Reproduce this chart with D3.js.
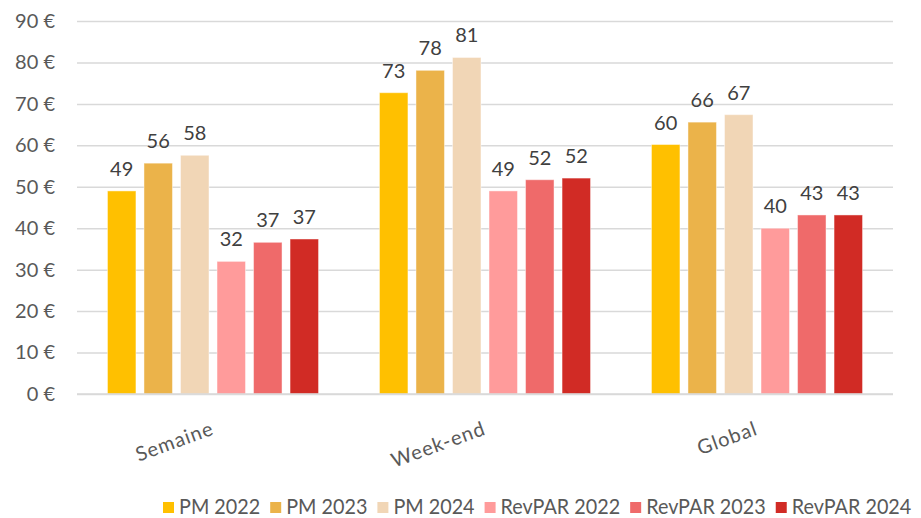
<!DOCTYPE html>
<html>
<head>
<meta charset="utf-8">
<script src="https://cdn.jsdelivr.net/npm/d3@7"></script>
<style>
  html, body { margin: 0; padding: 0; background: #ffffff; }
  svg { display: block; font-family: Lato, "Open Sans", sans-serif; }
</style>
</head>
<body>
<svg id="chart" width="921" height="518"></svg>
<script>
// Categories along the x axis
const categories = ["Semaine", "Week-end", "Global"];

// Series names and their fill colours
const seriesNames = ["PM 2022", "PM 2023", "PM 2024", "RevPAR 2022", "RevPAR 2023", "RevPAR 2024"];
const seriesColors = ["#FFC000", "#EBB34A", "#F1D6B6", "#FF9B9B", "#EF6A6A", "#D12B25"];

// Values (€) per series, one per category
const pm2022 = [49.0, 72.7, 60.2];
const pm2023 = [55.7, 78.1, 65.6];
const pm2024 = [57.6, 81.2, 67.4];
const revpar2022 = [32.0, 49.0, 40.0];
const revpar2023 = [36.6, 51.7, 43.2];
const revpar2024 = [37.4, 52.1, 43.2];

// Y axis ticks
const yTicks = [0, 10, 20, 30, 40, 50, 60, 70, 80, 90];

const seriesValues = [pm2022, pm2023, pm2024, revpar2022, revpar2023, revpar2024];

const svg = d3.select("#chart");
const margin = { left: 77, right: 28, top: 21, bottom: 124 };
const W = 921, H = 518;

const y = d3.scaleLinear().domain([0, 90]).range([H - margin.bottom, margin.top]);
const x0 = d3.scaleBand().domain(categories)
  .range([margin.left, W - margin.right])
  .paddingInner(0.224).paddingOuter(0.112);
const x1 = d3.scaleBand().domain(seriesNames)
  .range([0, x0.bandwidth()])
  .paddingInner(0.22);

const textColor = "#595959";

// Horizontal gridlines and y tick labels
const yAxis = d3.axisLeft(y).tickValues(yTicks)
  .tickSize(-(W - margin.left - margin.right))
  .tickPadding(22)
  .tickFormat(d => d + " €");
const gy = svg.append("g").attr("transform", `translate(${margin.left},0)`).call(yAxis);
gy.select(".domain").remove();
gy.selectAll(".tick line").attr("stroke", "#D9D9D9").attr("stroke-width", 1.5);
gy.selectAll(".tick text")
  .attr("fill", textColor)
  .style("font-size", "20px")
  .style("font-family", "Lato, sans-serif");

// Bars grouped by category
const groups = svg.append("g").selectAll("g")
  .data(categories)
  .join("g")
  .attr("transform", d => `translate(${x0(d)},0)`);

const cells = groups.selectAll("g.bar")
  .data((c, ci) => seriesNames.map((s, si) => ({ series: s, si, value: seriesValues[si][ci] })))
  .join("g").attr("class", "bar");

cells.append("rect")
  .attr("x", d => x1(d.series))
  .attr("width", x1.bandwidth())
  .attr("y", d => y(d.value))
  .attr("height", d => y(0) - y(d.value))
  .attr("fill", d => seriesColors[d.si])
  .attr("stroke", "#ffffff")
  .attr("stroke-opacity", 0.45)
  .attr("stroke-width", 1);

// Value labels above bars
cells.append("text")
  .attr("x", d => x1(d.series) + x1.bandwidth() / 2)
  .attr("y", d => y(d.value) - 15)
  .attr("text-anchor", "middle")
  .attr("fill", "#404040")
  .style("font-size", "20px")
  .text(d => d3.format(".0f")(d.value));

// Baseline
svg.append("line")
  .attr("x1", margin.left).attr("x2", W - margin.right)
  .attr("y1", y(0)).attr("y2", y(0))
  .attr("stroke", "#D9D9D9").attr("stroke-width", 1.5);

// Category labels, rotated
svg.append("g").selectAll("text")
  .data(categories)
  .join("text")
  .attr("text-anchor", "end")
  .attr("transform", d => `translate(${x0(d) + x0.bandwidth() / 2 + 2},${y(0) + 40}) rotate(-20)`)
  .attr("fill", textColor)
  .style("font-size", "20px")
  .style("letter-spacing", "1px")
  .text(d => d);

// Legend along the bottom, in a narrowed face
const legend = svg.append("g").attr("transform", "translate(0,514)");
const squeeze = 0.9;
let lx = 163;
seriesNames.forEach((name, i) => {
  legend.append("rect")
    .attr("x", lx).attr("y", -12).attr("width", 11).attr("height", 11)
    .attr("fill", seriesColors[i]);
  const t = legend.append("text")
    .attr("transform", `translate(${lx + 16},0) scale(${squeeze},1)`)
    .attr("fill", textColor)
    .style("font-size", "22px")
    .text(name);
  lx += 16 + t.node().getComputedTextLength() * squeeze + 10;
});
</script>
</body>
</html>
